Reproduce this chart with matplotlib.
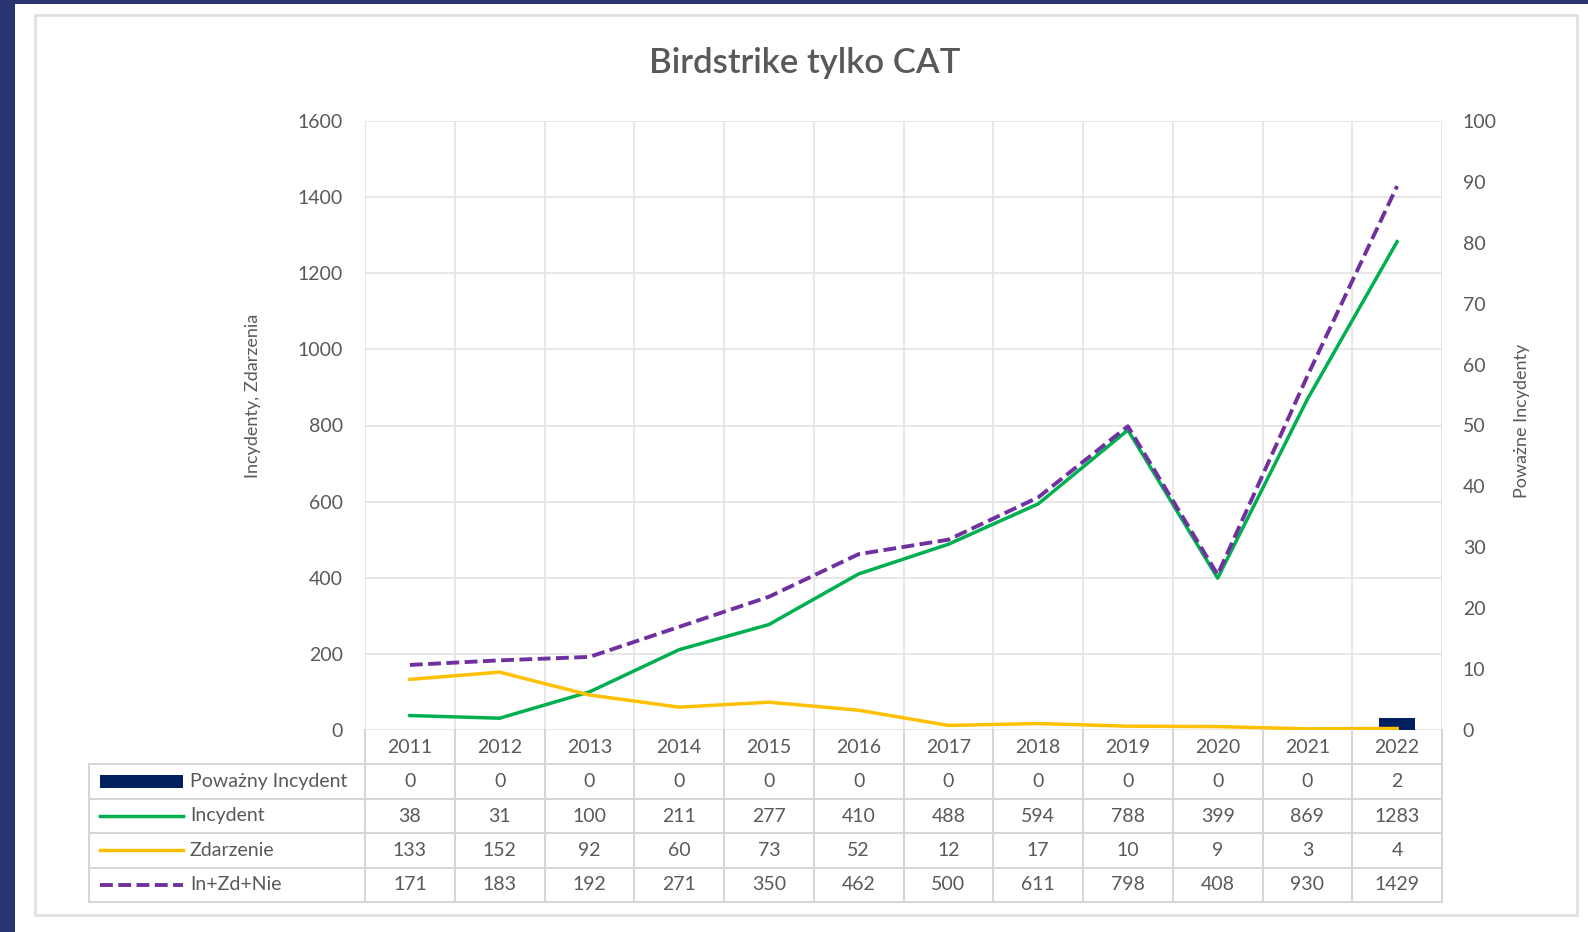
import matplotlib
matplotlib.use('Agg')
import matplotlib.pyplot as plt
from matplotlib.patches import Rectangle
import numpy as np

plt.rcParams['font.family'] = ['Lato', 'DejaVu Sans']

# data
years = ['2011', '2012', '2013', '2014', '2015', '2016', '2017', '2018', '2019', '2020', '2021', '2022']
powazny = [0, 0, 0, 0, 0, 0, 0, 0, 0, 0, 0, 2]
incydent = [38, 31, 100, 211, 277, 410, 488, 594, 788, 399, 869, 1283]
zdarzenie = [133, 152, 92, 60, 73, 52, 12, 17, 10, 9, 3, 4]
suma = [171, 183, 192, 271, 350, 462, 500, 611, 798, 408, 930, 1429]

row_names = ['Poważny Incydent', 'Incydent', 'Zdarzenie', 'In+Zd+Nie']

NAVY = '#002060'
GREEN = '#00B050'
YELLOW = '#FFC000'
PURPLE = '#7030A0'
TXT = '#595959'
GRID = '#E3E3E3'
FS = 14

W, H = 1588, 932


def box(x0, y0, x1, y1):
    # pixel box (top-left origin) -> figure fraction rect
    return [x0 / W, 1 - y1 / H, (x1 - x0) / W, (y1 - y0) / H]


fig = plt.figure(figsize=(W / 100, H / 100), dpi=100, facecolor='#283572')

# white page and light chart frame
bg = fig.add_axes([0, 0, 1, 1])
bg.set_xlim(0, W)
bg.set_ylim(H, 0)
bg.axis('off')
bg.add_patch(Rectangle((15, 4), W - 15, H - 4, facecolor='white', edgecolor='none'))
bg.add_patch(Rectangle((35, 15), 1542, 900, facecolor='white', edgecolor='#E0E0E0', lw=2))

x = np.arange(len(years))

# main plot
ax = fig.add_axes(box(365, 121, 1442, 730))
ax.set_facecolor('none')
ax.set_xlim(-0.5, len(years) - 0.5)
ax.set_ylim(0, 1600)
ax.set_yticks(np.arange(0, 1601, 200))
ax.set_xticks([])
ax.set_xticks(np.arange(-0.5, len(years), 1), minor=True)
ax.grid(True, axis='y', color=GRID, lw=1.2)
ax.grid(True, axis='x', which='minor', color=GRID, lw=1.2)
for s in ax.spines.values():
    s.set_visible(False)
ax.tick_params(axis='y', length=0, pad=16, labelsize=FS, labelcolor=TXT)
ax.tick_params(axis='x', which='both', length=0)
ax.set_axisbelow(True)

ax2 = ax.twinx()
ax2.set_ylim(0, 100)
ax2.set_yticks(np.arange(0, 101, 10))
for s in ax2.spines.values():
    s.set_visible(False)
ax2.tick_params(axis='y', length=0, pad=15, labelsize=FS, labelcolor=TXT)
ax2.bar(x, powazny, width=0.4, color=NAVY, zorder=1)

ax2.plot(x, incydent, color=GREEN, lw=2.5, zorder=3, transform=ax.transData)
ax2.plot(x, zdarzenie, color=YELLOW, lw=2.5, zorder=3, transform=ax.transData)
ax2.plot(x, suma, color=PURPLE, lw=2.8, dashes=(3.3, 1.4), zorder=4, transform=ax.transData)

fig.text(253 / W, 1 - 396 / H, 'Incydenty, Zdarzenia', rotation=90, ha='center', va='center',
         fontsize=13, color=TXT)
fig.text(1522 / W, 1 - 421 / H, 'Poważne Incydenty', rotation=90, ha='center', va='center',
         fontsize=13, color=TXT)
fig.text(805 / W, 1 - 63 / H, 'Birdstrike tylko CAT', ha='center', va='center',
         fontsize=25, fontweight='semibold', color=TXT)

# data table under the plot, sharing the category scale
tb = fig.add_axes(box(365, 730, 1442, 902))
tb.set_xlim(-0.5, len(years) - 0.5)
tb.set_ylim(5, 0)
tb.axis('off')
left = -0.5 - (365 - 89) / 89.75
for k in range(len(years) + 1):
    tb.plot([k - 0.5, k - 0.5], [0, 5], color='#D6D6D6', lw=1.5, clip_on=False)
for r in range(1, 6):
    tb.plot([left, len(years) - 0.5], [r, r], color='#D6D6D6', lw=1.5, clip_on=False)
tb.plot([left, left], [1, 5], color='#D6D6D6', lw=1.5, clip_on=False)

for i, yr in enumerate(years):
    tb.text(i, 0.5, yr, ha='center', va='center', fontsize=FS, color=TXT)
rows = [powazny, incydent, zdarzenie, suma]
for r, vals in enumerate(rows):
    for i, v in enumerate(vals):
        tb.text(i, r + 1.5, str(v), ha='center', va='center', fontsize=FS, color=TXT)

sw0 = -0.5 - (365 - 100) / 89.75
sw1 = -0.5 - (365 - 183) / 89.75
txt_x = -0.5 - (365 - 190) / 89.75
tb.add_patch(Rectangle((sw0, 1.31), sw1 - sw0, 0.38, facecolor=NAVY, edgecolor='none', clip_on=False))
tb.plot([sw0, sw1], [2.5, 2.5], color=GREEN, lw=2.5, clip_on=False)
tb.plot([sw0, sw1], [3.5, 3.5], color=YELLOW, lw=2.5, clip_on=False)
tb.plot([sw0, sw1], [4.5, 4.5], color=PURPLE, lw=2.8, dashes=(3.3, 1.4), clip_on=False)
for r, name in enumerate(row_names):
    tb.text(txt_x, r + 1.5, name, ha='left', va='center', fontsize=FS, color=TXT)

fig.savefig('out.png', dpi=100, facecolor=fig.get_facecolor())
